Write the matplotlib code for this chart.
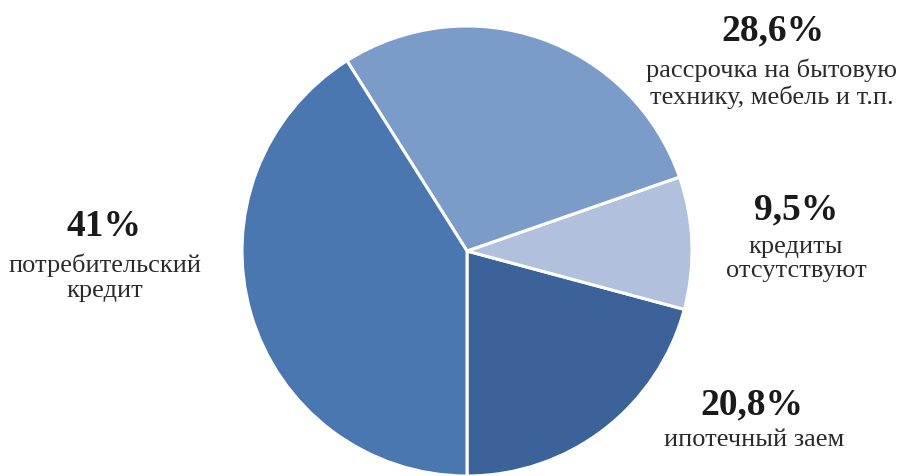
import matplotlib
matplotlib.use("Agg")
import matplotlib.pyplot as plt

# Структура кредитной нагрузки домохозяйств, %
categories = ["ипотечный заем", "кредиты\nотсутствуют",
              "рассрочка на бытовую\nтехнику, мебель и т.п.",
              "потребительский\nкредит"]
shares = [20.8, 9.5, 28.6, 41.0]
colors = ["#3c6399", "#b1c1dd", "#7b9bc9", "#4a77b0"]

# percent label centres and caption-block centres (pixel space, y from top)
pct_pos = [(752, 405), (796, 210), (773, 31), (104, 227)]
cap_pos = [(754, 440), (796, 259), (772, 84), (105, 278)]

W, H = 904, 477
fig = plt.figure(figsize=(W / 100, H / 100), dpi=100)
ax = fig.add_axes([0, 0, 1, 1])

cx, cy, r = 467, 252, 225
ax.pie(shares, colors=colors, startangle=270, counterclock=True,
       center=(cx, H - cy), radius=r, frame=True,
       wedgeprops=dict(edgecolor="white", linewidth=2.2))
ax.set_xlim(0, W)
ax.set_ylim(0, H)
ax.axis("off")

serif = ["Liberation Serif", "DejaVu Serif"]
for val, name, (px, py), (tx, ty) in zip(shares, categories, pct_pos, cap_pos):
    pct = f"{val:g}".replace(".", ",") + "%"
    ax.text(px, H - py, pct, ha="center", va="center", family=serif,
            fontsize=27, fontweight="bold", color="#1a1a1a")
    ax.text(tx, H - ty, name, ha="center", va="center", family=serif,
            fontsize=19, color="#2a2a2a", linespacing=1.17,
            multialignment="center")

fig.savefig("out.png", dpi=100)
